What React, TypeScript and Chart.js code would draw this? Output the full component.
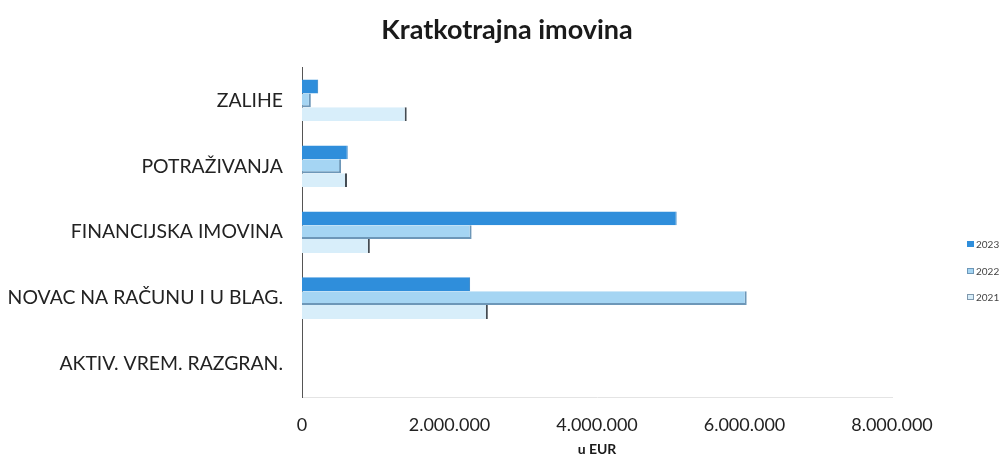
import React, { useEffect, useRef } from "react";
import { Chart, registerables } from "chart.js";

Chart.register(...registerables);

const categories = [
  "ZALIHE",
  "POTRAŽIVANJA",
  "FINANCIJSKA IMOVINA",
  "NOVAC NA RAČUNU I U BLAG.",
  "AKTIV. VREM. RAZGRAN.",
];
const seriesLabels = ["2023", "2022", "2021"];
const values2023 = [220000, 620000, 5080000, 2280000, 0];
const values2022 = [120000, 530000, 2300000, 6030000, 0];
const values2021 = [1420000, 610000, 920000, 2520000, 0];
const xTicks = [0, 2000000, 4000000, 6000000, 8000000];

const fills = ["#2f8edb", "#a5d5f3", "#d8eefa"];
const edges = ["#2a7cc0", "#6d97b8", "#444b52"];

const fmt = (v: number) =>
  v === 0 ? "0" : Math.round(v).toString().replace(/\B(?=(\d{3})+(?!\d))/g, ".");

export default function App() {
  const ref = useRef<HTMLCanvasElement | null>(null);
  useEffect(() => {
    if (!ref.current) return;
    const series = [values2023, values2022, values2021];
    const widths = [
      { top: 0, right: 1, bottom: 0, left: 0 },
      { top: 0, right: 2, bottom: 2, left: 0 },
      { top: 0, right: 2, bottom: 0, left: 0 },
    ];
    const chart = new Chart(ref.current, {
      type: "bar",
      data: {
        labels: categories,
        datasets: series.map((d, i) => ({
          label: seriesLabels[i],
          data: d,
          backgroundColor: fills[i],
          borderColor: edges[i],
          borderWidth: widths[i],
          borderSkipped: false,
          categoryPercentage: 0.63,
          barPercentage: 1,
        })),
      },
      options: {
        indexAxis: "y",
        responsive: false,
        animation: false,
        layout: { padding: { left: 8, right: 0, top: 0, bottom: 4 } },
        plugins: {
          title: {
            display: true,
            text: "Kratkotrajna imovina",
            color: "#1a1a1a",
            font: { family: "Lato", size: 27, weight: "bold" },
            padding: { top: 14, bottom: 21 },
          },
          legend: { display: false },
          tooltip: { enabled: false },
        },
        scales: {
          x: {
            min: 0,
            max: 8000000,
            afterBuildTicks: (axis: any) => {
              axis.ticks = xTicks.map((v) => ({ value: v }));
            },
            afterFit: (axis: any) => {
              axis.height = 65;
            },
            grid: { display: false, drawTicks: false },
            border: { display: true, color: "#e4e4e4", width: 1 },
            ticks: {
              color: "#222",
              font: { family: "Lato", size: 18 },
              padding: 17,
              callback: (v: any) => fmt(Number(v)),
              maxRotation: 0,
            },
            title: {
              display: true,
              text: "u EUR",
              color: "#1a1a1a",
              font: { family: "Lato", size: 14, weight: "bold" },
              padding: { top: 4, bottom: 4 },
            },
          },
          y: {
            afterFit: (axis: any) => {
              axis.width = 294;
            },
            grid: { display: false, drawTicks: false },
            border: { display: true, color: "#555", width: 1, dash: [2, 2] },
            ticks: {
              color: "#222",
              font: { family: "Lato", size: 19.4 },
              padding: 19,
            },
          },
          yRight: {
            type: "category",
            axis: "y",
            position: "right",
            labels: categories,
            afterFit: (axis: any) => {
              axis.width = 114;
            },
            grid: { display: false, drawTicks: false },
            border: { display: false },
            ticks: { display: false },
          },
        },
      },
    });
    return () => chart.destroy();
  }, []);
  return (
    <div style={{ position: "absolute", left: 0, top: 0, width: 1006, height: 466, background: "#fff" }}>
      <canvas ref={ref} width={1006} height={466} />
      {seriesLabels.map((s, i) => (
        <div
          key={s}
          style={{
            position: "absolute",
            left: 967,
            top: 238 + i * 26.5,
            fontFamily: "Lato",
            fontSize: 10,
            lineHeight: "12px",
            color: "#444",
            display: "flex",
            alignItems: "center",
            whiteSpace: "nowrap",
          }}
        >
          <span style={{ display: "inline-block", width: 7, height: 6, background: fills[i], border: i === 0 ? "none" : `1px solid ${i === 2 ? "#7f98ad" : edges[i]}`, boxSizing: "border-box", marginRight: 2 }} />
          {s}
        </div>
      ))}
    </div>
  );
}
